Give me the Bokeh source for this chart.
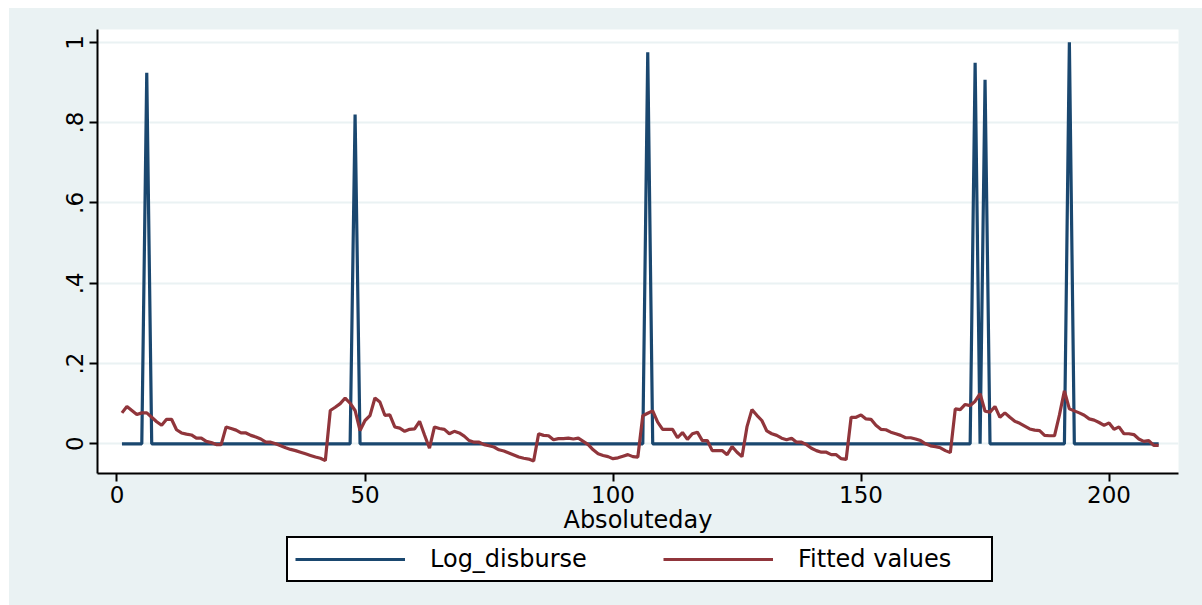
from bokeh.plotting import figure
from bokeh.layouts import column
from bokeh.models import (Range1d, FixedTicker, Legend, LegendItem)
from bokeh.embed import file_html
from bokeh.resources import INLINE

# Day index of the series
days = list(range(1, 211))

# Disbursement days and their log values (zero on every other day)
disburse_days = [6, 48, 107, 173, 175, 192]
disburse_vals = [0.924, 0.820, 0.975, 0.949, 0.907, 1.0]

log_disburse = [0.0] * len(days)
for d, v in zip(disburse_days, disburse_vals):
    log_disburse[d - 1] = v

# Fitted values, one per day
fitted = [
    0.077, 0.093, 0.083, 0.073, 0.077, 0.077, 0.066, 0.055, 0.046, 0.061,
    0.061, 0.035, 0.027, 0.024, 0.022, 0.014, 0.014, 0.006, 0.003, -0.002,
    -0.002, 0.042, 0.038, 0.034, 0.027, 0.027, 0.021, 0.017, 0.012, 0.004,
    0.004, 0.000, -0.005, -0.010, -0.014, -0.017, -0.021, -0.025, -0.029, -0.033,
    -0.036, -0.042, 0.083, 0.091, 0.100, 0.114, 0.101, 0.083, 0.033, 0.058,
    0.070, 0.114, 0.104, 0.071, 0.072, 0.042, 0.039, 0.031, 0.036, 0.037,
    0.056, 0.022, -0.011, 0.042, 0.038, 0.036, 0.025, 0.031, 0.027, 0.019,
    0.008, 0.004, 0.004, -0.002, -0.005, -0.008, -0.015, -0.018, -0.023, -0.028,
    -0.033, -0.036, -0.038, -0.043, 0.025, 0.021, 0.020, 0.010, 0.013, 0.013,
    0.014, 0.012, 0.014, 0.006, -0.002, -0.015, -0.025, -0.029, -0.032, -0.037,
    -0.035, -0.031, -0.027, -0.032, -0.033, 0.070, 0.076, 0.082, 0.054, 0.036,
    0.036, 0.036, 0.015, 0.028, 0.011, 0.025, 0.029, 0.008, 0.008, -0.017,
    -0.017, -0.017, -0.027, -0.007, -0.021, -0.032, 0.042, 0.085, 0.071, 0.058,
    0.032, 0.025, 0.021, 0.014, 0.010, 0.014, 0.004, 0.004, -0.002, -0.011,
    -0.017, -0.021, -0.021, -0.027, -0.027, -0.037, -0.039, 0.066, 0.066, 0.072,
    0.062, 0.061, 0.046, 0.036, 0.035, 0.029, 0.025, 0.021, 0.015, 0.015,
    0.012, 0.008, 0.000, -0.005, -0.007, -0.010, -0.017, -0.022, 0.087, 0.085,
    0.098, 0.095, 0.106, 0.125, 0.081, 0.079, 0.093, 0.066, 0.077, 0.066,
    0.056, 0.051, 0.044, 0.037, 0.034, 0.033, 0.021, 0.020, 0.020, 0.072,
    0.132, 0.087, 0.082, 0.077, 0.071, 0.062, 0.059, 0.053, 0.046, 0.052,
    0.036, 0.042, 0.025, 0.025, 0.023, 0.012, 0.006, 0.008, -0.004, -0.004,
]

x_ticks = [0, 50, 100, 150, 200]
y_ticks = [0, 0.2, 0.4, 0.6, 0.8, 1.0]
y_tick_labels = ["0", ".2", ".4", ".6", ".8", "1"]
series_names = ["Log_disburse", "Fitted values"]

BG = "#EAF2F3"
NAVY = "#1A476F"
MAROON = "#90353B"
FONT = "DejaVu Sans"
LW = 3.2

# main plot
p = figure(
    width=1193, height=528,
    output_backend="svg", toolbar_location=None,
    x_range=Range1d(-3.93, 214.0), y_range=Range1d(-0.074, 1.032),
    min_border_left=88, min_border_right=24,
    min_border_top=21, min_border_bottom=63,
)
p.background_fill_color = "white"
p.border_fill_color = BG
p.outline_line_color = None

p.line(days, log_disburse, line_color=NAVY, line_width=LW)
p.line(days, fitted, line_color=MAROON, line_width=LW)

for ax in (p.xaxis[0], p.yaxis[0]):
    ax.axis_line_color = "black"
    ax.axis_line_width = 2
    ax.major_tick_line_color = "black"
    ax.major_tick_line_width = 2
    ax.major_tick_out = 8
    ax.major_tick_in = 0
    ax.minor_tick_line_color = None
    ax.major_label_text_font = FONT
    ax.major_label_text_font_size = "23px"
    ax.major_label_text_color = "black"

p.xaxis.ticker = FixedTicker(ticks=x_ticks)
p.xaxis.axis_label = "Absoluteday"
p.xaxis.axis_label_text_font = FONT
p.xaxis.axis_label_text_font_size = "24px"
p.xaxis.axis_label_text_font_style = "normal"
p.xaxis.axis_label_text_color = "black"
p.xaxis.axis_label_standoff = 0
p.xaxis.major_label_standoff = 4

p.yaxis.ticker = FixedTicker(ticks=y_ticks)
p.yaxis.major_label_overrides = {t: l for t, l in zip(y_ticks, y_tick_labels)}
p.yaxis.major_label_orientation = "vertical"
p.yaxis.major_label_standoff = 6

p.xgrid.grid_line_color = None
p.ygrid.grid_line_color = BG
p.ygrid.grid_line_width = 2
p.ygrid.ticker = FixedTicker(ticks=y_ticks)

# legend strip below the plot; its key lines sit outside the strip's view range
lg = figure(
    width=1193, height=69,
    output_backend="svg", toolbar_location=None,
    x_axis_location=None, y_axis_location=None,
    x_range=Range1d(0, 1), y_range=Range1d(0, 1),
    min_border_left=88, min_border_right=24,
    min_border_top=0, min_border_bottom=0,
)
lg.background_fill_color = BG
lg.border_fill_color = BG
lg.outline_line_color = None
lg.grid.visible = False
k1 = lg.line([0, 1], [5, 5], line_color=NAVY, line_width=LW)
k2 = lg.line([0, 1], [5, 5], line_color=MAROON, line_width=LW)

legend = Legend(
    items=[LegendItem(label=series_names[0], renderers=[k1]),
           LegendItem(label=series_names[1], renderers=[k2])],
    orientation="horizontal",
    location=(189, 23),
    padding=7, margin=0,
    spacing=47,
    glyph_width=110, glyph_height=20,
    label_standoff=25, label_width=186,
    label_text_font=FONT, label_text_font_size="24px",
    label_text_color="black",
    border_line_color="black", border_line_width=2, border_line_alpha=1,
    background_fill_color="white", background_fill_alpha=1,
)
lg.add_layout(legend, "center")

page = column(p, lg, spacing=0, margin=(8, 0, 0, 9),
              styles={"background-color": BG})

open("out.html", "w").write(file_html(page, INLINE))
